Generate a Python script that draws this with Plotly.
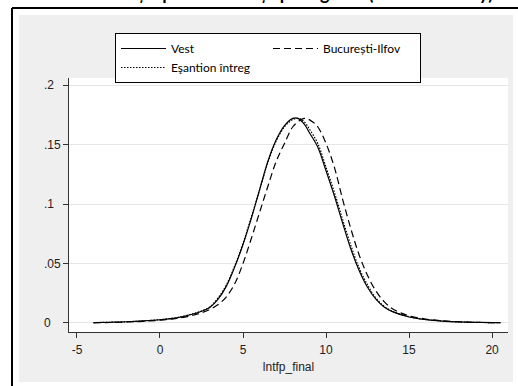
import plotly.graph_objects as go

W, H = 518, 386
L, R, T, B = 69, 10, 78, 54
PW, PH = W - L - R, H - T - B

# Kernel density estimates of lntfp_final
x_vest = [-4, -3, -2, -1, 0, 1, 2, 2.5, 3, 3.5, 4, 4.5, 5, 5.5, 6, 6.5, 7, 7.5, 8, 8.3,
          8.7, 9, 9.5, 10, 10.5, 11, 11.5, 12, 12.5, 13, 13.5, 14, 15, 16, 17, 18, 19, 20, 20.5]
y_vest = [0.0003, 0.0006, 0.001, 0.0017, 0.0027, 0.0043, 0.0075, 0.0098, 0.013, 0.020,
          0.031, 0.047, 0.066, 0.088, 0.112, 0.136, 0.154, 0.166, 0.172, 0.172,
          0.167, 0.160, 0.148, 0.128, 0.107, 0.084, 0.062, 0.044, 0.030, 0.020,
          0.0135, 0.0095, 0.005, 0.0028, 0.0016, 0.0009, 0.0005, 0.0003, 0.0002]

x_buc = [-4, -3, -2, -1, 0, 1, 2, 2.5, 3, 3.5, 4, 4.5, 5, 5.5, 6, 6.5, 7, 7.5, 8, 8.5,
         8.8, 9.2, 9.5, 10, 10.5, 11, 11.5, 12, 12.5, 13, 13.5, 14, 14.5, 15, 16, 17, 18, 19, 20, 20.5]
y_buc = [0.0002, 0.0004, 0.0008, 0.0014, 0.0023, 0.0038, 0.0065, 0.0086, 0.0113, 0.0155,
         0.022, 0.033, 0.050, 0.071, 0.093, 0.115, 0.136, 0.151, 0.165, 0.171,
         0.172, 0.169, 0.165, 0.151, 0.131, 0.104, 0.079, 0.057, 0.040, 0.027,
         0.018, 0.012, 0.0085, 0.006, 0.0033, 0.0018, 0.001, 0.0005, 0.0003, 0.0002]

x_esant = [-4, -3, -2, -1, 0, 1, 2, 2.5, 3, 3.5, 4, 4.5, 5, 5.5, 6, 6.5, 7, 7.5, 8, 8.4,
           8.7, 9, 9.5, 10, 10.5, 11, 11.5, 12, 12.5, 13, 13.5, 14, 15, 16, 17, 18, 19, 20, 20.5]
y_esant = [0.0003, 0.0006, 0.001, 0.0017, 0.0028, 0.0045, 0.0078, 0.0101, 0.0135, 0.021,
           0.032, 0.048, 0.067, 0.089, 0.112, 0.135, 0.153, 0.165, 0.171, 0.172,
           0.169, 0.163, 0.151, 0.131, 0.110, 0.087, 0.065, 0.046, 0.032, 0.021,
           0.014, 0.0098, 0.0052, 0.0029, 0.0016, 0.0009, 0.0005, 0.0003, 0.0002]

x_tickvals = [-5, 0, 5, 10, 15, 20]
x_ticktext = ["-5", "0", "5", "10", "15", "20"]
y_tickvals = [0, 0.05, 0.1, 0.15, 0.2]
# labels are left-aligned in the reference: pad with no-break spaces
y_ticktext = ["0\u00a0\u00a0\u00a0", ".05", ".1\u00a0\u00a0", ".15", ".2\u00a0\u00a0"]

title_text = "Distribuția productivității pe regiune (Kernel density)"
x_title = "lntfp_final"

fig = go.Figure()
fig.add_trace(go.Scatter(x=x_vest, y=y_vest, mode="lines", name="Vest",
                         line=dict(color="black", width=1.2, shape="spline", smoothing=1)))
fig.add_trace(go.Scatter(x=x_buc, y=y_buc, mode="lines", name="București-Ilfov",
                         line=dict(color="black", width=1.2, dash="7px,4px", shape="spline", smoothing=1)))
fig.add_trace(go.Scatter(x=x_esant, y=y_esant, mode="lines", name="Eşantion întreg",
                         line=dict(color="black", width=1.2, dash="1.5px,1.5px", shape="spline", smoothing=1)))

def px_x(p):
    return (p - L) / PW

def px_y(p):
    return (H - B - p) / PH

shapes = [
    dict(type="rect", xref="paper", yref="paper", layer="below",
         x0=px_x(19), x1=px_x(513), y0=px_y(382), y1=px_y(15),
         fillcolor="#efefef", line=dict(width=0)),
    dict(type="rect", xref="paper", yref="paper", layer="below",
         x0=0, x1=1, y0=0, y1=1, fillcolor="white", line=dict(width=0)),
    dict(type="line", xref="paper", yref="paper", layer="above",
         x0=px_x(12), x1=px_x(520), y0=px_y(8), y1=px_y(8),
         line=dict(color="black", width=2)),
    dict(type="line", xref="paper", yref="paper", layer="above",
         x0=px_x(12), x1=px_x(12), y0=px_y(8), y1=px_y(390),
         line=dict(color="black", width=2)),
]

fig.update_layout(
    width=W, height=H,
    margin=dict(l=L, r=R, t=T, b=B, autoexpand=False),
    paper_bgcolor="white", plot_bgcolor="rgba(0,0,0,0)",
    font=dict(family="Liberation Sans, Arial, sans-serif", size=12, color="#222"),
    shapes=shapes,
    hovermode=False,
    showlegend=True,
    legend=dict(
        orientation="h", x=px_x(115), y=px_y(33), xanchor="left", yanchor="top",
        bgcolor="white", bordercolor="black", borderwidth=1,
        font=dict(family="Lato, Carlito, sans-serif", size=12, color="black"),
        itemwidth=45, entrywidth=92, entrywidthmode="pixels", tracegroupgap=0,
    ),
    annotations=[dict(text="<b>" + title_text + "</b>", xref="paper", yref="paper",
                      x=px_x(283), y=px_y(6), xanchor="center", yanchor="bottom",
                      showarrow=False,
                      font=dict(family="Lato, Carlito, sans-serif", size=18, color="black"))],
    xaxis=dict(range=[-5.48, 20.96], tickvals=x_tickvals, ticktext=x_ticktext,
               showgrid=False, zeroline=False, showline=True, linecolor="#333", linewidth=1,
               ticks="outside", ticklen=5, tickcolor="#333", ticklabelstandoff=2,
               title=dict(text=x_title, standoff=6, font=dict(size=12)),
               tickfont=dict(size=12)),
    yaxis=dict(range=[-0.0076, 0.206], tickvals=y_tickvals, ticktext=y_ticktext,
               showgrid=True, gridcolor="#e6e6e6", gridwidth=1, zeroline=False,
               showline=True, linecolor="#333", linewidth=1,
               ticks="outside", ticklen=5, tickcolor="#333", tickfont=dict(size=12)),
)

fig.write_html("out.html", config={"displayModeBar": False},
               post_script="document.body.style.margin='0px';document.body.style.overflow='hidden';")
